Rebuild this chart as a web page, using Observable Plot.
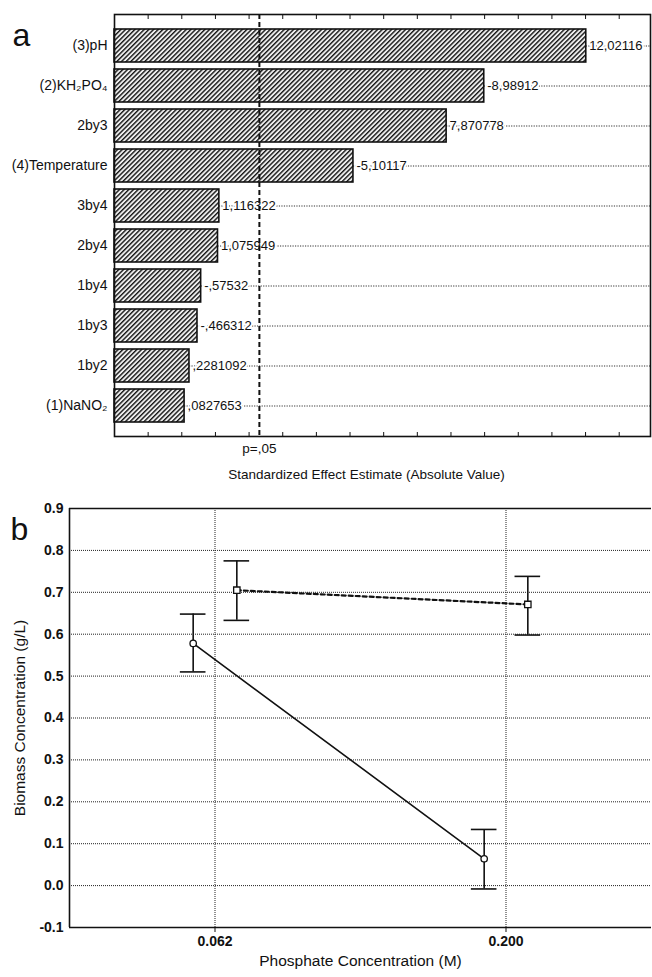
<!DOCTYPE html>
<html>
<head>
<meta charset="utf-8">
<script src="https://cdn.jsdelivr.net/npm/d3@7"></script>
<script src="https://cdn.jsdelivr.net/npm/@observablehq/plot@0.6"></script>
<style>
  html, body { margin: 0; padding: 0; background: white; }
  #wrap { width: 652px; }
  #wrap svg { display: block; }
</style>
</head>
<body>
<svg width="0" height="0" style="position:absolute">
  <defs>
    <pattern id="hatch" patternUnits="userSpaceOnUse" width="3.3" height="3.3" patternTransform="rotate(45)">
      <rect width="3.3" height="3.3" fill="#eeeeee"></rect>
      <line x1="0.7" y1="0" x2="0.7" y2="3.3" stroke="#151515" stroke-width="1.4"></line>
    </pattern>
  </defs>
</svg>
<div id="wrap"></div>
<script>
// ---------- Panel a: Pareto chart of standardized effects ----------
const effectLabels = ["(3)pH", "(2)KH\u2082PO\u2084", "2by3", "(4)Temperature", "3by4", "2by4", "1by4", "1by3", "1by2", "(1)NaNO\u2082"];
const effectValues = [12.02116, -8.98912, 7.870778, -5.10117, 1.116322, 1.075949, -0.57532, -0.466312, 0.2281092, 0.0827653];
const pCritical = 2.306;
const pLabel = "p=,05";
const xTitleA = "Standardized Effect Estimate (Absolute Value)";

// ---------- Panel b: interaction plot ----------
const phosphateLevels = ["0.062", "0.200"];
const solidMean = [0.578, 0.064];
const solidLow  = [0.510, -0.008];
const solidHigh = [0.648, 0.134];
const dashMean  = [0.705, 0.671];
const dashLow   = [0.633, 0.598];
const dashHigh  = [0.775, 0.738];
const yTicksB = [-0.1, 0, 0.1, 0.2, 0.3, 0.4, 0.5, 0.6, 0.7, 0.8, 0.9];
const xTitleB = "Phosphate Concentration (M)";
const yTitleB = "Biomass Concentration (g/L)";

const FONT = "'Liberation Sans', Arial, sans-serif";
const fmtStat = v => String(v).replace(/^(-?)0\./, "$1.").replace(".", ",");

const rowsA = effectLabels.map((label, i) => ({
  label, value: effectValues[i], abs: Math.abs(effectValues[i]), text: fmtStat(effectValues[i])
}));
const xMaxA = 13.93;

const chartA = Plot.plot({
  width: 652, height: 490,
  marginLeft: 114, marginRight: 2, marginTop: 14, marginBottom: 54,
  style: { fontFamily: FONT, color: "#111", background: "white" },
  x: { domain: [-2, xMaxA] },
  y: { domain: effectLabels, paddingInner: 0.18, paddingOuter: 0.32 },
  marks: [
    Plot.ruleY(rowsA, { y: "label", x1: "abs", x2: xMaxA, stroke: "#333", strokeWidth: 1, strokeDasharray: "1.2,1.3" }),
    Plot.barX(rowsA, { y: "label", x1: -2, x2: "abs", fill: "url(#hatch)", stroke: "#111", strokeWidth: 1.6 }),
    Plot.text(rowsA, { y: "label", x: "abs", text: "text", textAnchor: "start", dx: 3, fontSize: 13, fill: "#111", stroke: "white", strokeWidth: 4 }),
    Plot.ruleX([pCritical], { stroke: "#111", strokeWidth: 2, strokeDasharray: "5,3" }),
    Plot.frame({ stroke: "#111", strokeWidth: 1.6 }),
    Plot.axisX({ anchor: "top", ticks: d3.range(-1, 14), tickSize: -4, tickFormat: () => "", label: null }),
    Plot.axisX({ anchor: "bottom", ticks: d3.range(-1, 14), tickSize: -4, tickFormat: () => "", label: null }),
    Plot.axisY({ tickSize: 0, tickPadding: 7, fontSize: 14, label: null }),
    Plot.text([pLabel], { x: pCritical, frameAnchor: "bottom", dy: 16, fontSize: 13.5, text: d => d }),
    Plot.text([xTitleA], { frameAnchor: "bottom", dy: 42, dx: -16, fontSize: 13.5, text: d => d }),
    Plot.text(["a"], { frameAnchor: "top-left", dx: -102, dy: 9, fontSize: 32, textAnchor: "start", text: d => d })
  ]
});

// ---------- Panel b ----------
const offset = 0.075;
const solidPts = phosphateLevels.map((p, i) => ({ x: i - offset, y: solidMean[i], lo: solidLow[i], hi: solidHigh[i] }));
const dashPts  = phosphateLevels.map((p, i) => ({ x: i + offset, y: dashMean[i],  lo: dashLow[i],  hi: dashHigh[i] }));
const allPts = solidPts.concat(dashPts);
const cap = 0.044;

const chartB = Plot.plot({
  width: 652, height: 487,
  marginLeft: 69, marginRight: 1, marginTop: 18, marginBottom: 50,
  style: { fontFamily: FONT, color: "#111", background: "white" },
  x: { domain: [-0.5, 1.5] },
  y: { domain: [-0.1, 0.9] },
  marks: [
    Plot.gridY(yTicksB, { stroke: "#222", strokeOpacity: 1, strokeWidth: 1, strokeDasharray: "1,1" }),
    Plot.gridX([0, 1], { stroke: "#222", strokeOpacity: 1, strokeWidth: 1, strokeDasharray: "1,1" }),
    Plot.ruleY([-0.1, 0.9], { stroke: "#111", strokeWidth: 1.6 }),
    Plot.ruleX([-0.5], { stroke: "#111", strokeWidth: 1.6 }),
    Plot.axisY({ ticks: yTicksB, tickSize: 0, tickPadding: 6, tickFormat: d => d.toFixed(1), fontSize: 14, fontWeight: "bold", label: null }),
    Plot.axisX({ ticks: [0, 1], tickFormat: i => phosphateLevels[i], tickSize: 5, tickPadding: 4, fontSize: 14, fontWeight: "bold", label: null }),
    Plot.line(solidPts, { x: "x", y: "y", stroke: "#111", strokeWidth: 1.6 }),
    Plot.line(dashPts, { x: "x", y: "y", stroke: "#111", strokeWidth: 2.2, strokeDasharray: "4,3" }),
    Plot.ruleX(allPts, { x: "x", y1: "lo", y2: "hi", stroke: "#111", strokeWidth: 1.6 }),
    Plot.ruleY(allPts, { y: "hi", x1: d => d.x - cap, x2: d => d.x + cap, stroke: "#111", strokeWidth: 1.6 }),
    Plot.ruleY(allPts, { y: "lo", x1: d => d.x - cap, x2: d => d.x + cap, stroke: "#111", strokeWidth: 1.6 }),
    Plot.dot(solidPts, { x: "x", y: "y", symbol: "circle", r: 3.2, fill: "white", stroke: "#111", strokeWidth: 1.3 }),
    Plot.dot(dashPts, { x: "x", y: "y", symbol: "square", r: 3.6, fill: "white", stroke: "#111", strokeWidth: 1.3 }),
    Plot.text([yTitleB], { frameAnchor: "left", dx: -49, rotate: -90, textAnchor: "middle", fontSize: 15.5, text: d => d }),
    Plot.text([xTitleB], { frameAnchor: "bottom", dy: 38, fontSize: 15.5, text: d => d }),
    Plot.text(["b"], { frameAnchor: "top-left", dx: -59, dy: 9, fontSize: 32, textAnchor: "start", text: d => d })
  ]
});

const wrap = document.getElementById("wrap");
wrap.appendChild(chartA);
wrap.appendChild(chartB);
</script>
</body>
</html>
